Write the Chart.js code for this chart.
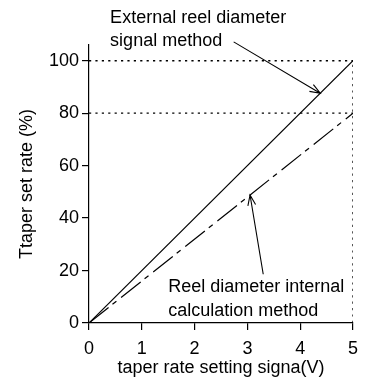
<!DOCTYPE html>
<html>
<head>
<meta charset="utf-8">
<script src="https://cdn.jsdelivr.net/npm/chart.js@4"></script>
<style>
  html, body { margin: 0; padding: 0; background: #fff; }
  #wrap { width: 366px; height: 383px; }
</style>
</head>
<body>
<div id="wrap"><canvas id="taperChart" width="366" height="383"></canvas></div>
<script>
// data
const signalVolts = [0, 5];
const externalRate = [0, 100];   // external reel diameter signal method
const internalRate = [0, 80];    // reel diameter internal calculation method
const guide100 = [100, 100];
const guide80 = [80, 80];
const guideVertY = [0, 100];
const xTicks = [0, 1, 2, 3, 4, 5];
const yTicks = [0, 20, 40, 60, 80, 100];

const FONT = "'Liberation Sans', Arial, Helvetica, sans-serif";

function pts(xs, ys) {
  return xs.map((x, i) => ({ x: x, y: ys[i] }));
}

// callouts with arrows, anchored in data units
const callouts = [
  { lines: ["External reel diameter", "signal method"], at: [0.40, 114.4], from: [2.74, 107.2], to: [4.38, 87.6] },
  { lines: ["Reel diameter internal", "calculation method"], at: [1.50, 11.8], from: [3.30, 18.6], to: [3.05, 48.8] },
];

const calloutPlugin = {
  id: "callouts",
  afterDatasetsDraw(chart) {
    const ctx = chart.ctx;
    const xs = chart.scales.x, ys = chart.scales.y;
    ctx.save();
    ctx.fillStyle = "#000";
    ctx.strokeStyle = "#000";
    ctx.lineWidth = 1.1;
    ctx.font = "18px " + FONT;
    ctx.textBaseline = "alphabetic";
    callouts.forEach(c => {
      const tx = xs.getPixelForValue(c.at[0]);
      const ty = ys.getPixelForValue(c.at[1]);
      c.lines.forEach((t, i) => ctx.fillText(t, tx, ty + i * 23.5));

      const x1 = xs.getPixelForValue(c.from[0]), y1 = ys.getPixelForValue(c.from[1]);
      const x2 = xs.getPixelForValue(c.to[0]), y2 = ys.getPixelForValue(c.to[1]);
      ctx.beginPath();
      ctx.moveTo(x1, y1);
      ctx.lineTo(x2, y2);
      const ang = Math.atan2(y2 - y1, x2 - x1);
      const len = 11, spread = 0.36;
      ctx.moveTo(x2 - len * Math.cos(ang - spread), y2 - len * Math.sin(ang - spread));
      ctx.lineTo(x2, y2);
      ctx.lineTo(x2 - len * Math.cos(ang + spread), y2 - len * Math.sin(ang + spread));
      ctx.stroke();
    });
    ctx.restore();
  }
};

const dotted = { borderColor: "#000", borderWidth: 1.3, borderDash: [2.2, 4.2], pointRadius: 0, fill: false };

new Chart(document.getElementById("taperChart"), {
  type: "line",
  data: {
    datasets: [
      { label: "External reel diameter signal method", data: pts(signalVolts, externalRate),
        borderColor: "#000", borderWidth: 1.2, pointRadius: 0, fill: false },
      { label: "Reel diameter internal calculation method", data: pts(signalVolts, internalRate),
        borderColor: "#000", borderWidth: 1.2, borderDash: [25, 5, 5, 6], pointRadius: 0, fill: false },
      Object.assign({ label: "100%", data: pts(signalVolts, guide100) }, dotted),
      Object.assign({ label: "80%", data: pts(signalVolts, guide80) }, dotted),
      Object.assign({ label: "5V", data: pts([signalVolts[1], signalVolts[1]], guideVertY) }, dotted),
    ],
  },
  options: {
    responsive: false,
    animation: false,
    events: [],
    layout: { padding: { left: 0, right: 13, top: 45, bottom: 0 } },
    plugins: { legend: { display: false }, tooltip: { enabled: false } },
    scales: {
      x: {
        type: "linear",
        min: 0,
        max: 5,
        afterBuildTicks: s => { s.ticks = xTicks.map(v => ({ value: v })); },
        afterFit: s => { s.height = 60; },
        grid: { drawOnChartArea: false, drawTicks: true, tickLength: 7, color: "#000", lineWidth: 1.2 },
        border: { display: true, color: "#000", width: 1.2 },
        ticks: { color: "#000", font: { family: FONT, size: 18 }, padding: 8, maxRotation: 0 },
        title: { display: true, text: "taper rate setting signa(V)", color: "#000",
                 font: { family: FONT, size: 18 }, padding: { top: 0, bottom: 4 } },
      },
      y: {
        type: "linear",
        min: 0,
        max: 106,
        afterBuildTicks: s => { s.ticks = yTicks.map(v => ({ value: v })); },
        afterFit: s => { s.width = 89; },
        grid: { drawOnChartArea: false, drawTicks: true, tickLength: 7, color: "#000", lineWidth: 1.2 },
        border: { display: true, color: "#000", width: 1.2 },
        ticks: { color: "#000", font: { family: FONT, size: 18 }, padding: 3 },
        title: { display: true, text: "Ttaper set rate (%)", color: "#000",
                 font: { family: FONT, size: 18 }, padding: { top: 16, bottom: 4 } },
      },
    },
  },
  plugins: [calloutPlugin],
});
</script>
</body>
</html>
